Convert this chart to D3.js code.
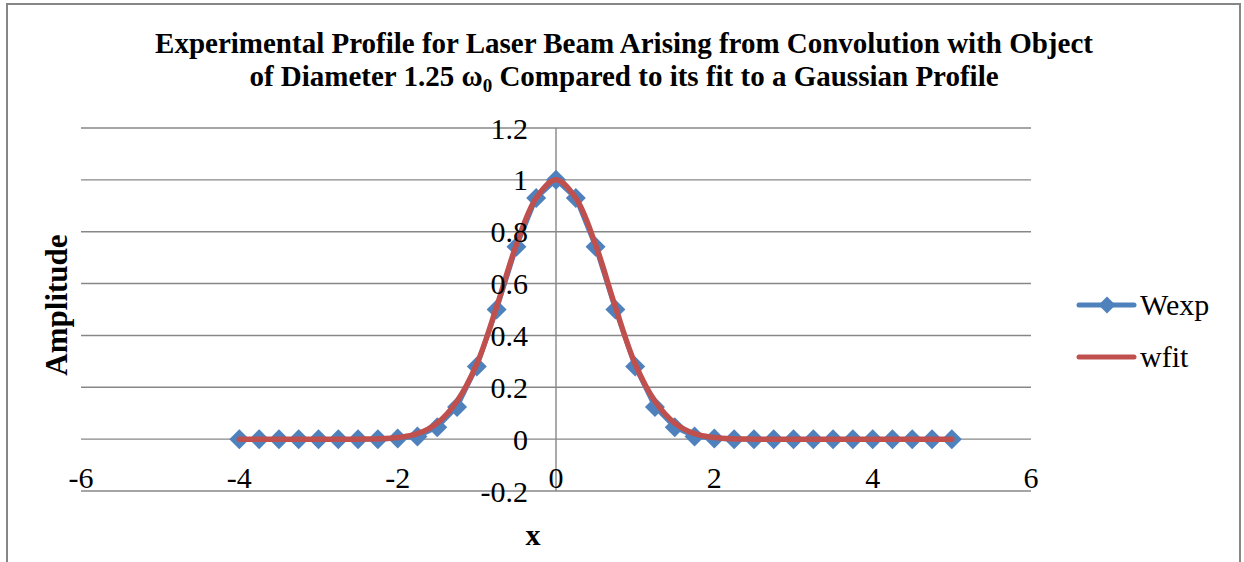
<!DOCTYPE html>
<html>
<head>
<meta charset="utf-8">
<script src="https://cdn.jsdelivr.net/npm/d3@7"></script>
<style>
  body { margin: 0; background: #fff; }
  text { font-family: "Liberation Serif", "Times New Roman", serif; fill: #000; }
</style>
</head>
<body>
<svg id="chart"></svg>
<script>
var xs = [-4, -3.75, -3.5, -3.25, -3, -2.75, -2.5, -2.25, -2, -1.75, -1.5, -1.25, -1, -0.75, -0.5, -0.25,
          0, 0.25, 0.5, 0.75, 1, 1.25, 1.5, 1.75, 2, 2.25, 2.5, 2.75, 3, 3.25, 3.5, 3.75, 4, 4.25, 4.5, 4.75, 5];
var wexp = [0, 0, 0, 0, 0, 0, 0, 0, 0.002, 0.01, 0.046, 0.124, 0.28, 0.5, 0.742, 0.93,
            1, 0.93, 0.742, 0.5, 0.28, 0.124, 0.046, 0.01, 0.002, 0, 0, 0, 0, 0, 0, 0, 0, 0, 0, 0, 0];
var wfit = [0, 0, 0, 0, 0, 0, 0, 0.001, 0.006, 0.021, 0.062, 0.146, 0.29, 0.51, 0.75, 0.93,
            1, 0.93, 0.75, 0.51, 0.29, 0.146, 0.062, 0.021, 0.006, 0.001, 0, 0, 0, 0, 0, 0, 0, 0, 0, 0, 0];
var xTicks = [-6, -4, -2, 0, 2, 4, 6];
var yTicks = [-0.2, 0, 0.2, 0.4, 0.6, 0.8, 1, 1.2];
var seriesNames = ["Wexp", "wfit"];

var width = 1244, height = 562;
var blue = "#4F81BD", red = "#C0504D", grid = "#878787";

var svg = d3.select("#chart")
    .attr("width", width)
    .attr("height", height);

// outer chart border
svg.append("rect")
    .attr("x", 7).attr("y", 4)
    .attr("width", 1233).attr("height", 600)
    .attr("fill", "none")
    .attr("stroke", "#868686")
    .attr("stroke-width", 2);

var x = d3.scaleLinear().domain([-6, 6]).range([81, 1031]);
var y = d3.scaleLinear().domain([-0.2, 1.2]).range([491, 128]);

// horizontal gridlines
svg.selectAll(".grid")
    .data(yTicks)
    .enter()
    .append("line")
    .attr("x1", x(-6)).attr("x2", x(6))
    .attr("y1", function(d) { return y(d); })
    .attr("y2", function(d) { return y(d); })
    .attr("stroke", grid)
    .attr("stroke-width", 1.4);

// vertical axis at x = 0
svg.append("line")
    .attr("x1", x(0)).attr("x2", x(0))
    .attr("y1", y(1.2)).attr("y2", y(-0.2))
    .attr("stroke", grid)
    .attr("stroke-width", 1.4);

var pts = xs.map(function(d, i) { return {x: d, e: wexp[i], f: wfit[i]}; });

var lineExp = d3.line()
    .x(function(d) { return x(d.x); })
    .y(function(d) { return y(d.e); });

var lineFit = d3.line()
    .x(function(d) { return x(d.x); })
    .y(function(d) { return y(d.f); })
    .curve(d3.curveCatmullRom);

svg.append("path")
    .datum(pts)
    .attr("d", lineExp)
    .attr("fill", "none")
    .attr("stroke", blue)
    .attr("stroke-width", 4.5)
    .attr("stroke-linejoin", "round");

var diamond = d3.symbol().type(d3.symbolSquare).size(200);

svg.selectAll(".marker")
    .data(pts)
    .enter()
    .append("path")
    .attr("d", diamond)
    .attr("fill", blue)
    .attr("transform", function(d) {
        return "translate(" + x(d.x) + "," + y(d.e) + ") rotate(45)";
    });

svg.append("path")
    .datum(pts)
    .attr("d", lineFit)
    .attr("fill", "none")
    .attr("stroke", red)
    .attr("stroke-width", 5.5)
    .attr("stroke-linecap", "round")
    .attr("stroke-linejoin", "round");

// y tick labels
svg.selectAll(".ylab")
    .data(yTicks)
    .enter()
    .append("text")
    .attr("x", 528)
    .attr("y", function(d) { return y(d); })
    .attr("dy", "0.35em")
    .attr("text-anchor", "end")
    .style("font-size", "30px")
    .text(function(d) { return String(+d.toFixed(1)); });

// x tick labels
svg.selectAll(".xlab")
    .data(xTicks)
    .enter()
    .append("text")
    .attr("x", function(d) { return x(d); })
    .attr("y", 488)
    .attr("text-anchor", "middle")
    .style("font-size", "30px")
    .text(function(d) { return String(d); });

// title
var title = svg.append("text")
    .attr("x", 624)
    .attr("text-anchor", "middle")
    .style("font-size", "29px")
    .style("font-weight", "bold");
title.append("tspan").attr("x", 624).attr("y", 53)
    .text("Experimental Profile for Laser Beam Arising from Convolution with Object");
var t2 = title.append("tspan").attr("x", 624).attr("y", 86);
t2.append("tspan").text("of Diameter 1.25 \u03C9");
t2.append("tspan").attr("dy", 6).style("font-size", "19px").text("0");
t2.append("tspan").attr("dy", -6).text(" Compared to its fit to a Gaussian Profile");

// axis titles
svg.append("text")
    .attr("transform", "translate(67,305) rotate(-90)")
    .attr("text-anchor", "middle")
    .style("font-size", "31px")
    .style("font-weight", "bold")
    .text("Amplitude");

svg.append("text")
    .attr("x", 533).attr("y", 545)
    .attr("text-anchor", "middle")
    .style("font-size", "30px")
    .style("font-weight", "bold")
    .text("x");

// legend
var legend = svg.selectAll(".legend")
    .data(seriesNames)
    .enter()
    .append("g")
    .attr("transform", function(d, i) { return "translate(1079," + (305 + i * 52) + ")"; });

legend.append("line")
    .attr("x1", 0).attr("x2", 55)
    .attr("stroke", function(d, i) { return i === 0 ? blue : red; })
    .attr("stroke-width", 5)
    .attr("stroke-linecap", "round");

legend.filter(function(d, i) { return i === 0; })
    .append("path")
    .attr("d", d3.symbol().type(d3.symbolSquare).size(144))
    .attr("fill", blue)
    .attr("transform", "translate(28,0) rotate(45)");

legend.append("text")
    .attr("x", 61)
    .attr("y", 10)
    .style("font-size", "30px")
    .text(function(d) { return d; });
</script>
</body>
</html>
